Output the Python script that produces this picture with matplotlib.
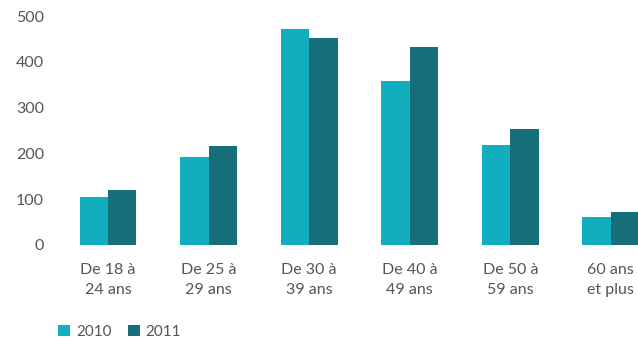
import numpy as np
from matplotlib import pyplot as plt

# ---------------- data ----------------
categories = ['De 18 à\n24 ans', 'De 25 à\n29 ans', 'De 30 à\n39 ans',
              'De 40 à\n49 ans', 'De 50 à\n59 ans', '60 ans\net plus']
values_2010 = [105, 192, 472, 358, 219, 61]
values_2011 = [119, 216, 453, 433, 253, 73]
series_names = ['2010', '2011']
yticks = [0, 100, 200, 300, 400, 500]

col_2010 = '#11AEBF'
col_2011 = '#176E7B'
text_col = '#555555'

plt.rcParams['font.family'] = ['Lato', 'DejaVu Sans']

fig = plt.figure(figsize=(6.38, 3.38), dpi=100)
ax = fig.add_axes([58 / 638, 1 - 245 / 338, 580 / 638, (245 - 16) / 338])

x = np.arange(len(categories))
w = 0.283
ax.bar(x - w / 2, values_2010, w, color=col_2010, label=series_names[0])
ax.bar(x + w / 2, values_2011, w, color=col_2011, label=series_names[1])

ax.set_xlim(-0.497, 5.27)
ax.set_ylim(0, 500)
ax.set_yticks(yticks)
ax.set_xticks(x)
ax.set_xticklabels(categories, linespacing=1.55)
ax.tick_params(axis='both', length=0, labelsize=11.5, labelcolor=text_col)
ax.tick_params(axis='y', pad=10)
ax.tick_params(axis='x', pad=13)
for s in ax.spines.values():
    s.set_visible(False)

ax.legend(loc='lower left', bbox_to_anchor=(-0.01, -0.435), ncol=2, frameon=False,
          fontsize=11, labelcolor=text_col, handlelength=0.75, handleheight=0.75,
          handletextpad=0.4, columnspacing=1.1, borderaxespad=0)

fig.savefig('out.png', dpi=100)
